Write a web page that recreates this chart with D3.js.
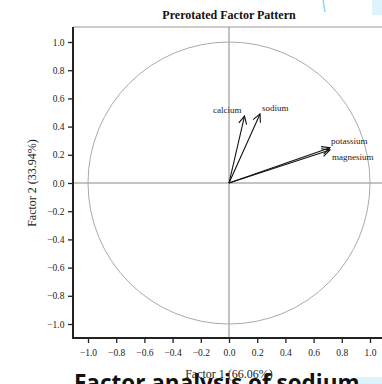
<!DOCTYPE html>
<html><head><meta charset="utf-8">
<script src="https://cdn.jsdelivr.net/npm/d3@7"></script>
<style>body{margin:0;background:#fff;overflow:hidden}</style>
</head><body>
<svg id="c" width="382" height="384"></svg>
<script>
const variables = ["calcium", "sodium", "potassium", "magnesium"];
const factor1 = [0.11, 0.22, 0.716, 0.716];
const factor2 = [0.475, 0.49, 0.25, 0.234];
const tickValues = [-1.0, -0.8, -0.6, -0.4, -0.2, 0.0, 0.2, 0.4, 0.6, 0.8, 1.0];
const titleText = "Prerotated Factor Pattern";
const xLabel = "Factor 1 (66.06%)";
const yLabel = "Factor 2 (33.94%)";
const headingText = "Factor analysis of sodium";

(function () {
const svg = d3.select("#c");
const x = d3.scaleLinear().domain([-1, 1]).range([88, 370]);
const y = d3.scaleLinear().domain([-1, 1]).range([324, 42]);
const pLeft = 73, pTop = 27, pBottom = 338, pRight = 390;
const serif = "'Liberation Serif','DejaVu Serif',serif";

// decorations (page fragments)
svg.append("rect").attr("x", 372).attr("y", 0).attr("width", 10).attr("height", 15).attr("fill", "#dff3fb");
svg.append("line").attr("x1", 323).attr("y1", 0).attr("x2", 325).attr("y2", 12).attr("stroke", "#8fd6f2").attr("stroke-width", 1.5);

// frame top
svg.append("line").attr("x1", pLeft).attr("x2", pRight).attr("y1", pTop).attr("y2", pTop).attr("stroke", "#999").attr("stroke-width", 1);

// crosshair
svg.append("line").attr("x1", x(0)).attr("x2", x(0)).attr("y1", pTop).attr("y2", pBottom).attr("stroke", "#888").attr("stroke-width", 1);
svg.append("line").attr("x1", pLeft).attr("x2", pRight).attr("y1", y(0)).attr("y2", y(0)).attr("stroke", "#888").attr("stroke-width", 1);

// unit circle
svg.append("circle").attr("cx", x(0)).attr("cy", y(0)).attr("r", x(1) - x(0))
  .attr("fill", "none").attr("stroke", "#aaa").attr("stroke-width", 1);

// axes
const xAxis = d3.axisBottom(x).tickValues(tickValues).tickFormat(d3.format(".1f")).tickSize(5).tickSizeOuter(0);
const yAxis = d3.axisLeft(y).tickValues(tickValues).tickFormat(d3.format(".1f")).tickSize(5).tickSizeOuter(0);
const gx = svg.append("g").attr("transform", `translate(0,${pBottom})`).call(xAxis);
const gy = svg.append("g").attr("transform", `translate(${pLeft},0)`).call(yAxis);
[gx, gy].forEach(g => {
  g.select(".domain").remove();
  g.selectAll(".tick line").attr("stroke", "#222").attr("stroke-width", 1.3);
  g.selectAll(".tick text").attr("font-family", serif).attr("font-size", 9.5).attr("fill", "#222");
});
gx.selectAll(".tick text").attr("dy", "0.71em").attr("y", 11);
gy.selectAll(".tick text").attr("x", -8.5);
svg.append("line").attr("x1", pLeft).attr("x2", pLeft).attr("y1", pTop).attr("y2", pBottom + 1).attr("stroke", "#222").attr("stroke-width", 2);
svg.append("line").attr("x1", pLeft - 1).attr("x2", pRight).attr("y1", pBottom).attr("y2", pBottom).attr("stroke", "#222").attr("stroke-width", 2);

// arrows
svg.append("defs").append("marker").attr("id", "ah").attr("viewBox", "0 0 10 10")
  .attr("refX", 9).attr("refY", 5).attr("markerWidth", 10).attr("markerHeight", 10)
  .attr("markerUnits", "userSpaceOnUse").attr("orient", "auto")
  .append("path").attr("d", "M1,1 L9,5 L1,9").attr("fill", "none").attr("stroke", "#111").attr("stroke-width", 1.1);

variables.forEach((v, i) => {
  svg.append("line").attr("x1", x(0)).attr("y1", y(0)).attr("x2", x(factor1[i])).attr("y2", y(factor2[i]))
    .attr("stroke", "#111").attr("stroke-width", 1.1).attr("marker-end", "url(#ah)");
});
const labelPos = [
  {dx: -3, dy: -3.5, anchor: "end"},
  {dx: 2, dy: -3, anchor: "start"},
  {dx: 1, dy: -4, anchor: "start"},
  {dx: 2, dy: 10, anchor: "start"}
];
variables.forEach((v, i) => {
  svg.append("text").attr("x", x(factor1[i]) + labelPos[i].dx).attr("y", y(factor2[i]) + labelPos[i].dy)
    .attr("text-anchor", labelPos[i].anchor).attr("font-family", serif).attr("font-size", 9).attr("fill", "#222").text(v);
});

// title
svg.append("text").attr("x", 229).attr("y", 19).attr("text-anchor", "middle").attr("font-family", serif)
  .attr("font-weight", "bold").attr("font-size", 12).attr("fill", "#111").text(titleText);

// bottom heading fragment
svg.append("rect").attr("x", 357).attr("y", 377).attr("width", 25).attr("height", 7).attr("fill", "#dff3fb");
svg.append("text").attr("x", 74).attr("y", 391).attr("font-family", "'Open Sans','Noto Sans',sans-serif")
  .attr("font-weight", "bold").attr("font-size", 22.5).attr("fill", "#111").text(headingText);

// axis labels
svg.append("text").attr("x", 229).attr("y", 378).attr("text-anchor", "middle").attr("font-family", serif)
  .attr("font-size", 12).attr("fill", "#222").text(xLabel);
svg.append("text").attr("transform", `translate(36,${y(0)}) rotate(-90)`).attr("text-anchor", "middle")
  .attr("font-family", serif).attr("font-size", 12).attr("fill", "#222").text(yLabel);
})();
</script>
</body></html>
